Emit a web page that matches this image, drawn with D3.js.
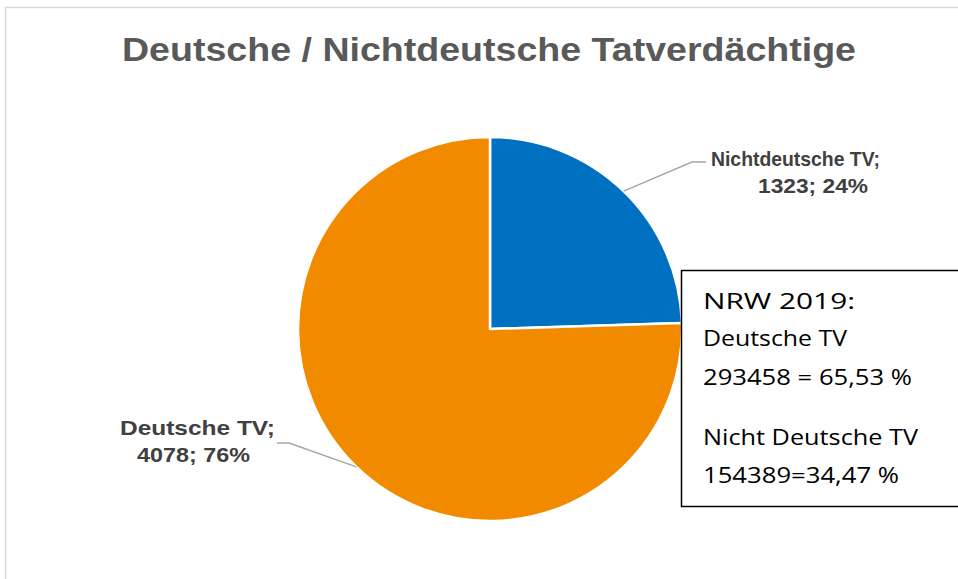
<!DOCTYPE html>
<html lang="de">
<head>
<meta charset="utf-8">
<title>Deutsche / Nichtdeutsche Tatverdächtige</title>
<script src="https://d3js.org/d3.v7.min.js"></script>
<style>
  body { margin: 0; background: #fff; }
  svg { display: block; }
</style>
</head>
<body>
<svg width="958" height="579"></svg>
<script>

// data
var categories = ["Nichtdeutsche TV", "Deutsche TV"];
var values = [1323, 4078];
var percents = ["24%", "76%"];
var colors = ["#0070c0", "#f28a00"];

// NRW comparison box
var boxLines = ["NRW 2019:", "Deutsche TV", "293458 = 65,53 %", "Nicht Deutsche TV", "154389=34,47 %"];

var svg = d3.select("svg"),
    width = +svg.attr("width"),
    height = +svg.attr("height");

// chart area frame (only left and top edges are visible)
svg.append("path")
    .attr("d", "M5.5,579V7.5H958")
    .attr("fill", "none")
    .attr("stroke", "#d9d9d9")
    .attr("stroke-width", 1.5);

svg.append("text")
    .attr("x", 122)
    .attr("y", 61)
    .attr("textLength", 734)
    .attr("lengthAdjust", "spacingAndGlyphs")
    .attr("font-family", "Liberation Sans, Arial, sans-serif")
    .attr("font-weight", "bold")
    .attr("font-size", 34)
    .attr("fill", "#595959")
    .text("Deutsche / Nichtdeutsche Tatverdächtige");

var cx = 490, cy = 329, r = 192;

var pie = d3.pie().sort(null).value(function(d) { return d; });
var arc = d3.arc().innerRadius(0).outerRadius(r);
var arcs = pie(values);

var g = svg.append("g").attr("transform", "translate(" + cx + "," + cy + ")");

g.selectAll("path")
  .data(arcs)
  .enter().append("path")
    .attr("d", arc)
    .attr("fill", function(d, i) { return colors[i]; })
    .attr("stroke", "#fff")
    .attr("stroke-width", 2.5)
    .attr("stroke-linejoin", "round");

// label placement: left x of each line, first baseline, line widths, leader elbow + end
var labelPos = [
  { x: [711, 758], y: 166, w: [169, 110], elbow: [692, 162], end: [706, 162] },
  { x: [120, 137], y: 435, w: [155, 113], elbow: [289, 443], end: [277, 443] }
];

arcs.forEach(function(d, i) {
  var mid = (d.startAngle + d.endAngle) / 2;
  var px = cx + Math.sin(mid) * r,
      py = cy - Math.cos(mid) * r;
  var p = labelPos[i];
  svg.append("polyline")
      .attr("points", [[px, py], p.elbow, p.end].map(function(q) { return q.join(","); }).join(" "))
      .attr("fill", "none")
      .attr("stroke", "#a6a6a6")
      .attr("stroke-width", 1.5);

  var lines = [categories[i] + ";", d3.format("d")(values[i]) + "; " + percents[i]];
  lines.forEach(function(s, k) {
    svg.append("text")
        .attr("x", p.x[k])
        .attr("y", p.y + k * 27)
        .attr("textLength", p.w[k])
        .attr("lengthAdjust", "spacingAndGlyphs")
        .attr("font-family", "Liberation Sans, Arial, sans-serif")
        .attr("font-weight", "bold")
        .attr("font-size", 21)
        .attr("fill", "#404040")
        .text(s);
  });
});

// text box on the right
svg.append("rect")
    .attr("x", 681.5)
    .attr("y", 270.5)
    .attr("width", 290)
    .attr("height", 236)
    .attr("fill", "#fff")
    .attr("stroke", "#000")
    .attr("stroke-width", 1.5);

var lineY = [309, 346, 385, 445, 483];
var lineW = [152, 144, 209, 215, 196];
svg.append("g")
  .selectAll("text")
  .data(boxLines)
  .enter().append("text")
    .attr("x", 703)
    .attr("y", function(d, i) { return lineY[i]; })
    .attr("textLength", function(d, i) { return lineW[i]; })
    .attr("lengthAdjust", "spacingAndGlyphs")
    .attr("font-family", "Open Sans, Calibri, sans-serif")
    .attr("font-size", 22)
    .attr("fill", "#000")
    .text(function(d) { return d; });

</script>
</body>
</html>
